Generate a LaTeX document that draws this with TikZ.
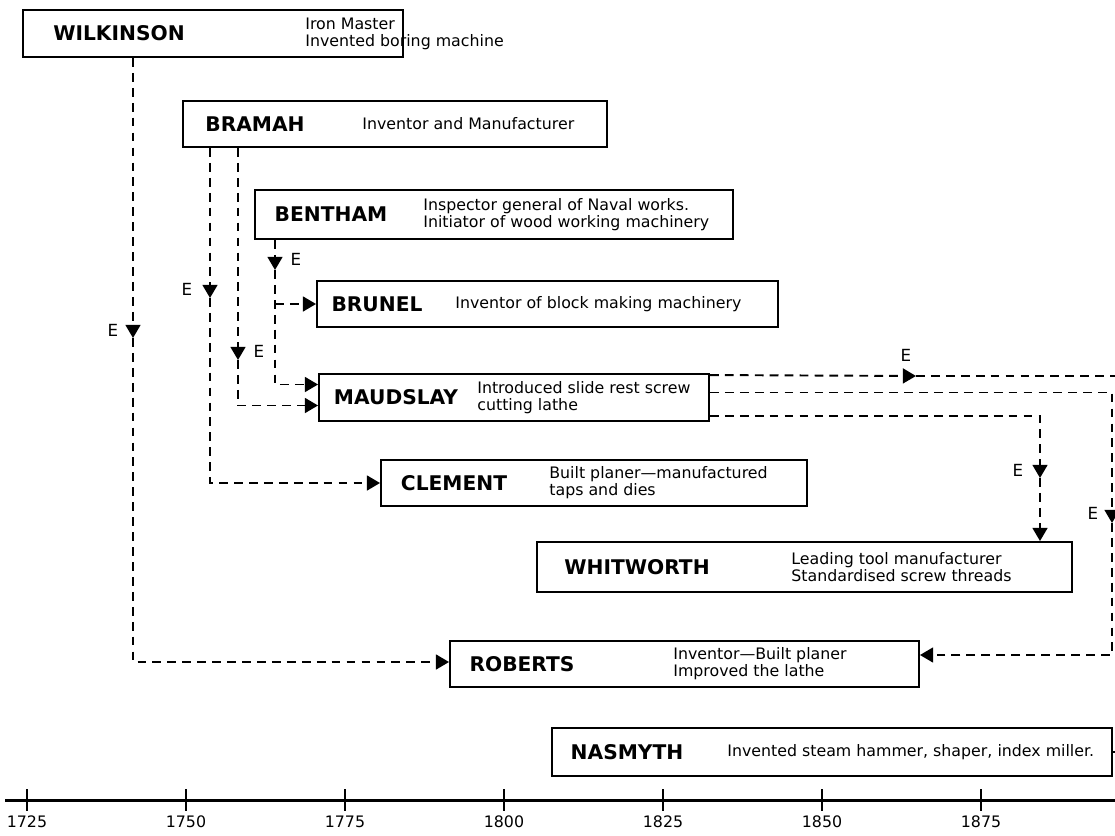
\documentclass[tikz,border=0pt]{standalone}
\usepackage{fontspec}
\setmainfont{DejaVu Sans}
\usepackage{tikz}
\usetikzlibrary{arrows.meta,calc}
\tikzset{
	card/.style={draw, line width=1.1pt, inner sep=0pt},
	who/.style={font=\bfseries\fontsize{11.5}{13}\selectfont, inner sep=0pt},
	what/.style={font=\fontsize{9}{9.8}\selectfont, align=left, inner sep=0pt},
	elab/.style={font=\fontsize{9.5}{11}\selectfont, inner sep=0pt},
	year/.style={font=\fontsize{9}{11}\selectfont, inner sep=2.5pt},
	flow/.style={line width=1.1pt, dash pattern=on 5pt off 3.5pt},
	arrowed/.style={-{Triangle[length=7.5pt,width=8.5pt]}}
}
\newcommand{\inventor}[9]{\node[card, minimum width={(#6-#4)*0.02cm}, minimum height={(#7-#5)*0.02cm}] (#1) at ({(#4+#6)/2},{(#5+#7)/2}) {};\node[who] (#1name) at (#8,{(#5+#7)/2}) {#2};\node[what, anchor=west] (#1what) at (#9,{(#5+#7)/2}) {#3};}

\begin{document}
\begin{tikzpicture}[x=0.02cm, y=-0.02cm]
	\useasboundingbox (0,0) rectangle (1115,835);

	\inventor{wilk}{WILKINSON}{Iron Master\\Invented boring machine}{23}{10}{403}{57}{119}{305}
	\inventor{bramah}{BRAMAH}{Inventor and Manufacturer}{183}{101}{607}{147}{255}{362}
	\inventor{bentham}{BENTHAM}{Inspector general of Naval works.\\Initiator of wood working machinery}{255}{190}{733}{239}{331}{423}
	\inventor{brunel}{BRUNEL}{Inventor of block making machinery}{317}{281}{778}{327}{377}{455}
	\inventor{maud}{MAUDSLAY}{Introduced slide rest screw\\cutting lathe}{319}{374}{709}{421}{396}{477}
	\inventor{clement}{CLEMENT}{Built planer---manufactured\\taps and dies}{381}{460}{807}{506}{454}{549}
	\inventor{whit}{WHITWORTH}{Leading tool manufacturer\\Standardised screw threads}{537}{542}{1072}{592}{637}{791}
	\inventor{roberts}{ROBERTS}{Inventor---Built planer\\Improved the lathe}{450}{641}{919}{687}{522}{673}
	\inventor{nasmyth}{NASMYTH}{Invented steam hammer, shaper, index miller.}{552}{728}{1112}{776}{627}{727}

	% left hand links
	\coordinate (wE) at (133,338);
	\draw[flow,arrowed] (wilk.south -| wE) -- (wE);
	\draw[flow,arrowed] (wE) |- ($(roberts.west)+(0,-2)$);
	\node[elab] (wElab) at (113,330) {E};

	\coordinate (bcE) at (210,298);
	\draw[flow,arrowed] (bramah.south -| bcE) -- (bcE);
	\draw[flow,arrowed] (bcE) |- (clement.west);
	\node[elab] (bcElab) at (187,289) {E};

	\coordinate (bmE) at (238,360);
	\draw[flow,arrowed] (bramah.south -| bmE) -- (bmE);
	\draw[flow,arrowed] (bmE) |- ($(maud.west)+(0,8)$);
	\node[elab] (bmElab) at (259,351) {E};

	\coordinate (beE) at (275,270);
	\draw[flow,arrowed] (bentham.south -| beE) -- (beE);
	\draw[flow,arrowed] (beE) |- ($(maud.west)+(0,-13)$);
	\draw[flow,arrowed] (beE |- brunel.west) -- (brunel.west);
	\node[elab] (beElab) at (296,259) {E};

	% right hand links
	\coordinate (mtE) at (916,376);
	\coordinate (edgeT) at (1115,376);
	\draw[flow,arrowed] ($(maud.north east)+(0,2)$) -- (mtE);
	\draw[flow] (mtE) -- (edgeT);
	\node[elab] (mtElab) at (906,355) {E};

	\coordinate (mmE) at (1112,523);
	\draw[flow,arrowed] ($(maud.east)+(0,-5)$) -| (mmE);
	\draw[flow,arrowed] (mmE) |- ($(roberts.east)+(0,-9)$);
	\node[elab] (mmElab) at (1093,513) {E};

	\coordinate (mbE) at (1040,478);
	\draw[flow,arrowed] ($(maud.south east)+(0,-6)$) -| (mbE);
	\draw[flow,arrowed] (mbE) -- (whit.north -| mbE);
	\node[elab] (mbElab) at (1018,470) {E};

	\coordinate (edgeN) at (1115,752);
	\draw[line width=1pt] (nasmyth.east) -- (edgeN);

	% time axis
	\coordinate (axisL) at (5,800);
	\coordinate (axisR) at (1115,800);
	\draw[line width=1.7pt] (axisL) -- (axisR);
	\foreach \yr [count=\i from 0] in {1725,1750,...,1875}
		\draw[line width=0.9pt] ({27+159*\i},789) -- ({27+159*\i},811) node[year, below] (yr\i) {\yr};
\end{tikzpicture}
\end{document}
